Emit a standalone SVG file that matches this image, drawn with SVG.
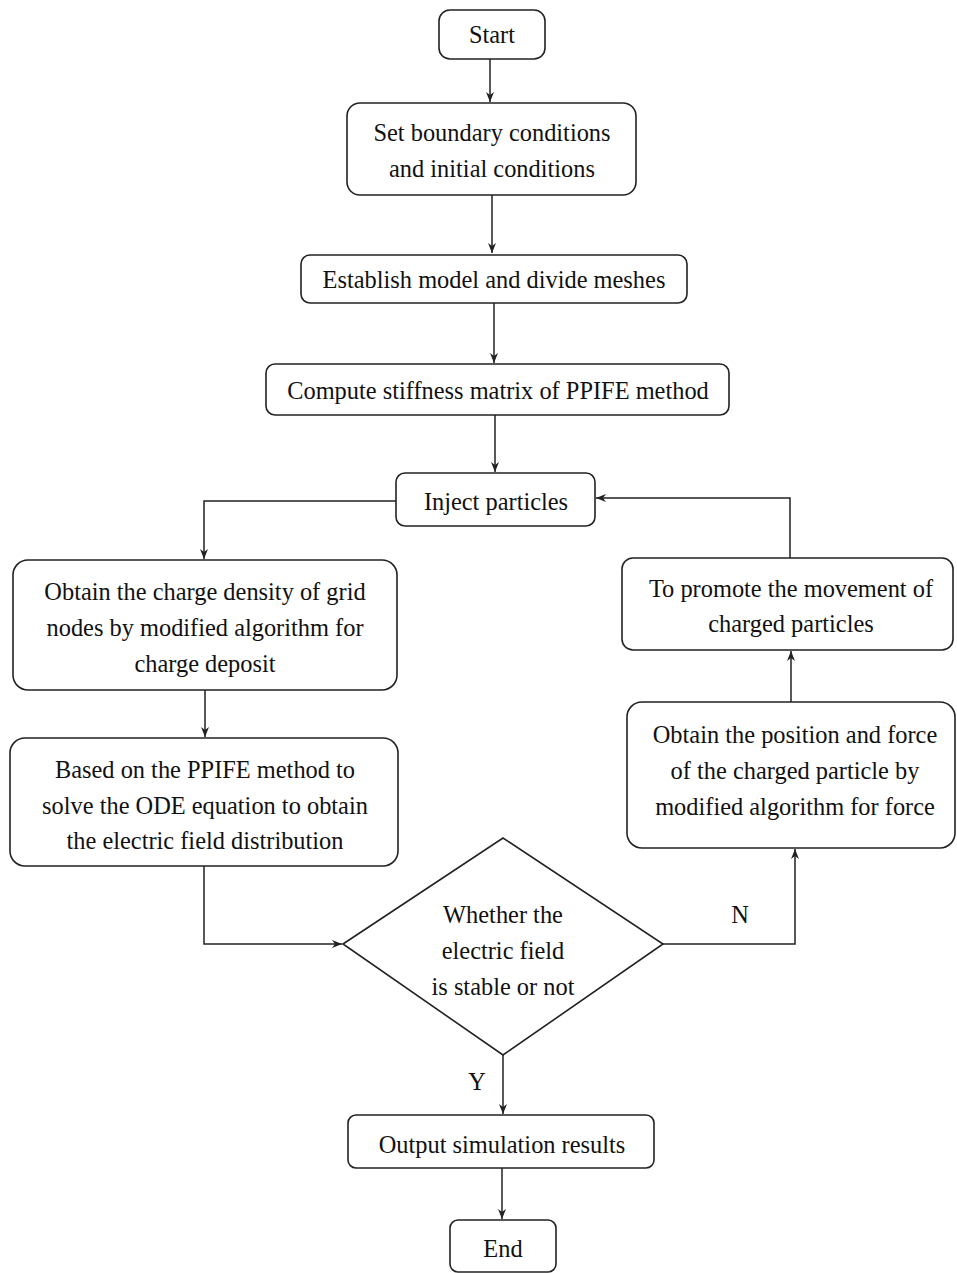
<svg xmlns="http://www.w3.org/2000/svg" width="957" height="1273" viewBox="0 0 957 1273">
<style>
.box{fill:#fff;stroke:#222;stroke-width:1.6}
.t{font-size:24.4px;fill:#111;text-anchor:middle}
.c{fill:none;stroke:#222;stroke-width:1.5}
</style>
<defs>
<marker id="ah" viewBox="0 0 10 10" refX="10" refY="5" markerWidth="10" markerHeight="10" markerUnits="userSpaceOnUse" orient="auto">
<path d="M0,1 L10,5 L0,9 L3,5 Z" fill="#222"/>
</marker>
</defs>
<rect width="957" height="1273" fill="#fff"/>
<g font-family="Liberation Serif, Tinos, DejaVu Serif, serif">
<g id="connectors">
<path class="c" d="M490,59 V102" marker-end="url(#ah)"/>
<path class="c" d="M492,195 V253" marker-end="url(#ah)"/>
<path class="c" d="M494,303 V363" marker-end="url(#ah)"/>
<path class="c" d="M495,415 V472" marker-end="url(#ah)"/>
<path class="c" d="M396,501 H204 V559" marker-end="url(#ah)"/>
<path class="c" d="M205,690 V737" marker-end="url(#ah)"/>
<path class="c" d="M204,866 V944 H342" marker-end="url(#ah)"/>
<path class="c" d="M663,944 H795 V849" marker-end="url(#ah)"/>
<path class="c" d="M791,702 V651" marker-end="url(#ah)"/>
<path class="c" d="M790,558 V498 H596" marker-end="url(#ah)"/>
<path class="c" d="M503,1055 V1114" marker-end="url(#ah)"/>
<path class="c" d="M502,1168 V1219" marker-end="url(#ah)"/>
<text class="t" x="740" y="923">N</text>
<text class="t" x="477" y="1090">Y</text>
</g>
<g id="start">
<rect class="box" x="439" y="10" width="106" height="49" rx="11"/>
<text class="t" x="492" y="43">Start</text>
</g>
<g id="set-conditions">
<rect class="box" x="347" y="103" width="289" height="92" rx="13"/>
<text class="t" x="492" y="141">Set boundary conditions</text>
<text class="t" x="492" y="177">and initial conditions</text>
</g>
<g id="establish-model">
<rect class="box" x="301" y="255" width="386" height="48" rx="9"/>
<text class="t" x="494" y="288">Establish model and divide meshes</text>
</g>
<g id="compute-stiffness">
<rect class="box" x="266" y="364" width="463" height="51" rx="9"/>
<text class="t" x="498" y="399">Compute stiffness matrix of PPIFE method</text>
</g>
<g id="inject">
<rect class="box" x="396" y="473" width="199" height="53" rx="9"/>
<text class="t" x="496" y="510">Inject particles</text>
</g>
<g id="charge-density">
<rect class="box" x="13" y="560" width="384" height="130" rx="15"/>
<text class="t" x="205" y="600">Obtain the charge density of grid</text>
<text class="t" x="205" y="636">nodes by modified algorithm for</text>
<text class="t" x="205" y="672">charge deposit</text>
</g>
<g id="solve-ode">
<rect class="box" x="10" y="738" width="388" height="128" rx="15"/>
<text class="t" x="205" y="778">Based on the PPIFE method to</text>
<text class="t" x="205" y="814">solve the ODE equation to obtain</text>
<text class="t" x="205" y="849">the electric field distribution</text>
</g>
<g id="stable-decision">
<path class="box" d="M343,944 L503,838 L663,944 L503,1055 Z"/>
<text class="t" x="503" y="923">Whether the</text>
<text class="t" x="503" y="959">electric field</text>
<text class="t" x="503" y="995">is stable or not</text>
</g>
<g id="position-force">
<rect class="box" x="627" y="702" width="328" height="146" rx="15"/>
<text class="t" x="795" y="743">Obtain the position and force</text>
<text class="t" x="795" y="779">of the charged particle by</text>
<text class="t" x="795" y="815">modified algorithm for force</text>
</g>
<g id="promote-movement">
<rect class="box" x="622" y="558" width="331" height="92" rx="11"/>
<text class="t" x="791" y="597">To promote the movement of</text>
<text class="t" x="791" y="632">charged particles</text>
</g>
<g id="output">
<rect class="box" x="348" y="1115" width="306" height="53" rx="8"/>
<text class="t" x="502" y="1153">Output simulation results</text>
</g>
<g id="end">
<rect class="box" x="450" y="1220" width="106" height="52" rx="8"/>
<text class="t" x="503" y="1257">End</text>
</g>
</g>
</svg>
